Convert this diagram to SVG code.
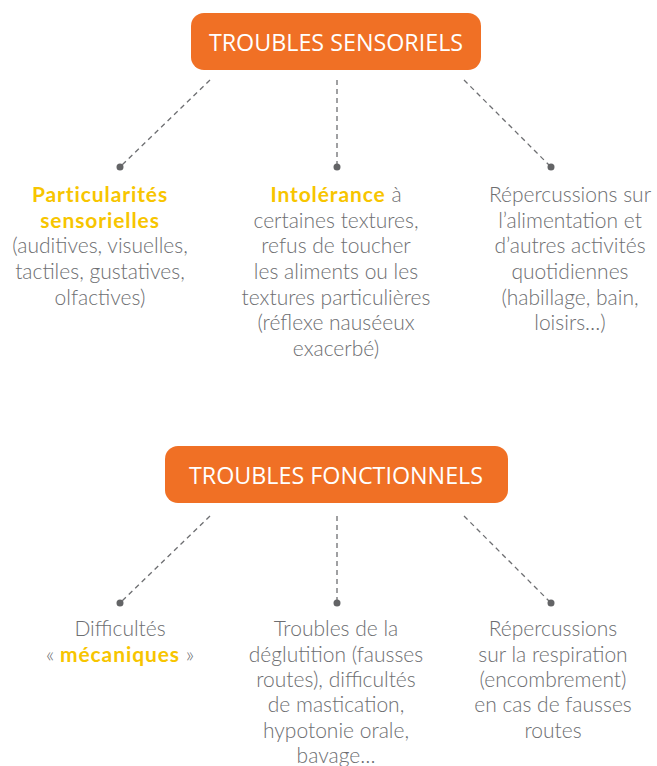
<svg xmlns="http://www.w3.org/2000/svg" width="657" height="766" viewBox="0 0 657 766">
<style>
.box{fill:#f07025}
.title{font-family:"Open Sans","Liberation Sans",sans-serif;font-size:23.3px;fill:#fff;text-anchor:middle}
.t{font-family:"Lato","Open Sans","Liberation Sans",sans-serif;font-weight:300;font-size:21px;fill:#6d6e71;text-anchor:middle}
.hl{font-weight:700;fill:#f7c500;letter-spacing:0.9px}
.c{stroke:#6d6e71;stroke-width:1.3;stroke-dasharray:5 4;fill:none}
.d{fill:#636466}
</style>
<rect width="657" height="766" fill="#fff"/>
<g id="n-sensoriels">
<rect class="box" x="191" y="13" width="290" height="57" rx="13"/>
<text class="title" x="336" y="51">TROUBLES SENSORIELS</text>
</g>
<g id="n-fonctionnels">
<rect class="box" x="165" y="446" width="343" height="57" rx="13"/>
<text class="title" x="336" y="484">TROUBLES FONCTIONNELS</text>
</g>
<g id="connectors">
<line class="c" x1="210" y1="80" x2="120" y2="167"/>
<line class="c" x1="337" y1="80" x2="337" y2="167"/>
<line class="c" x1="464" y1="80" x2="551" y2="167"/>
<circle class="d" cx="120" cy="167" r="3.5"/>
<circle class="d" cx="337" cy="167" r="3.5"/>
<circle class="d" cx="551" cy="167" r="3.5"/>
<line class="c" x1="210" y1="516" x2="120" y2="603"/>
<line class="c" x1="337" y1="516" x2="337" y2="603"/>
<line class="c" x1="464" y1="516" x2="551" y2="603"/>
<circle class="d" cx="120" cy="603" r="3.5"/>
<circle class="d" cx="337" cy="603" r="3.5"/>
<circle class="d" cx="551" cy="603" r="3.5"/>
</g>
<g id="n-particularites">
<text class="t" x="100" y="202"><tspan class="hl">Particularités</tspan></text>
<text class="t" x="100" y="228"><tspan class="hl">sensorielles</tspan></text>
<text class="t" x="100" y="253">(auditives, visuelles,</text>
<text class="t" x="100" y="279">tactiles, gustatives,</text>
<text class="t" x="100" y="305">olfactives)</text>
</g>
<g id="n-intolerance">
<text class="t" x="336" y="202"><tspan class="hl">Intolérance</tspan> à</text>
<text class="t" x="336" y="228">certaines textures,</text>
<text class="t" x="336" y="253">refus de toucher</text>
<text class="t" x="336" y="279">les aliments ou les</text>
<text class="t" x="336" y="305">textures particulières</text>
<text class="t" x="336" y="330">(réflexe nauséeux</text>
<text class="t" x="336" y="356">exacerbé)</text>
</g>
<g id="n-repercussions1">
<text class="t" x="570" y="202">Répercussions sur</text>
<text class="t" x="570" y="228">l’alimentation et</text>
<text class="t" x="570" y="253">d’autres activités</text>
<text class="t" x="570" y="279">quotidiennes</text>
<text class="t" x="570" y="305">(habillage, bain,</text>
<text class="t" x="570" y="330">loisirs…)</text>
</g>
<g id="n-difficultes">
<text class="t" x="120" y="636">Difficultés</text>
<text class="t" x="120" y="662">« <tspan class="hl">mécaniques</tspan> »</text>
</g>
<g id="n-deglutition">
<text class="t" x="336" y="636">Troubles de la</text>
<text class="t" x="336" y="662">déglutition (fausses</text>
<text class="t" x="336" y="687">routes), difficultés</text>
<text class="t" x="336" y="712">de mastication,</text>
<text class="t" x="336" y="738">hypotonie orale,</text>
<text class="t" x="336" y="763">bavage…</text>
</g>
<g id="n-repercussions2">
<text class="t" x="553" y="636">Répercussions</text>
<text class="t" x="553" y="662">sur la respiration</text>
<text class="t" x="553" y="687">(encombrement)</text>
<text class="t" x="553" y="712">en cas de fausses</text>
<text class="t" x="553" y="738">routes</text>
</g>
</svg>
